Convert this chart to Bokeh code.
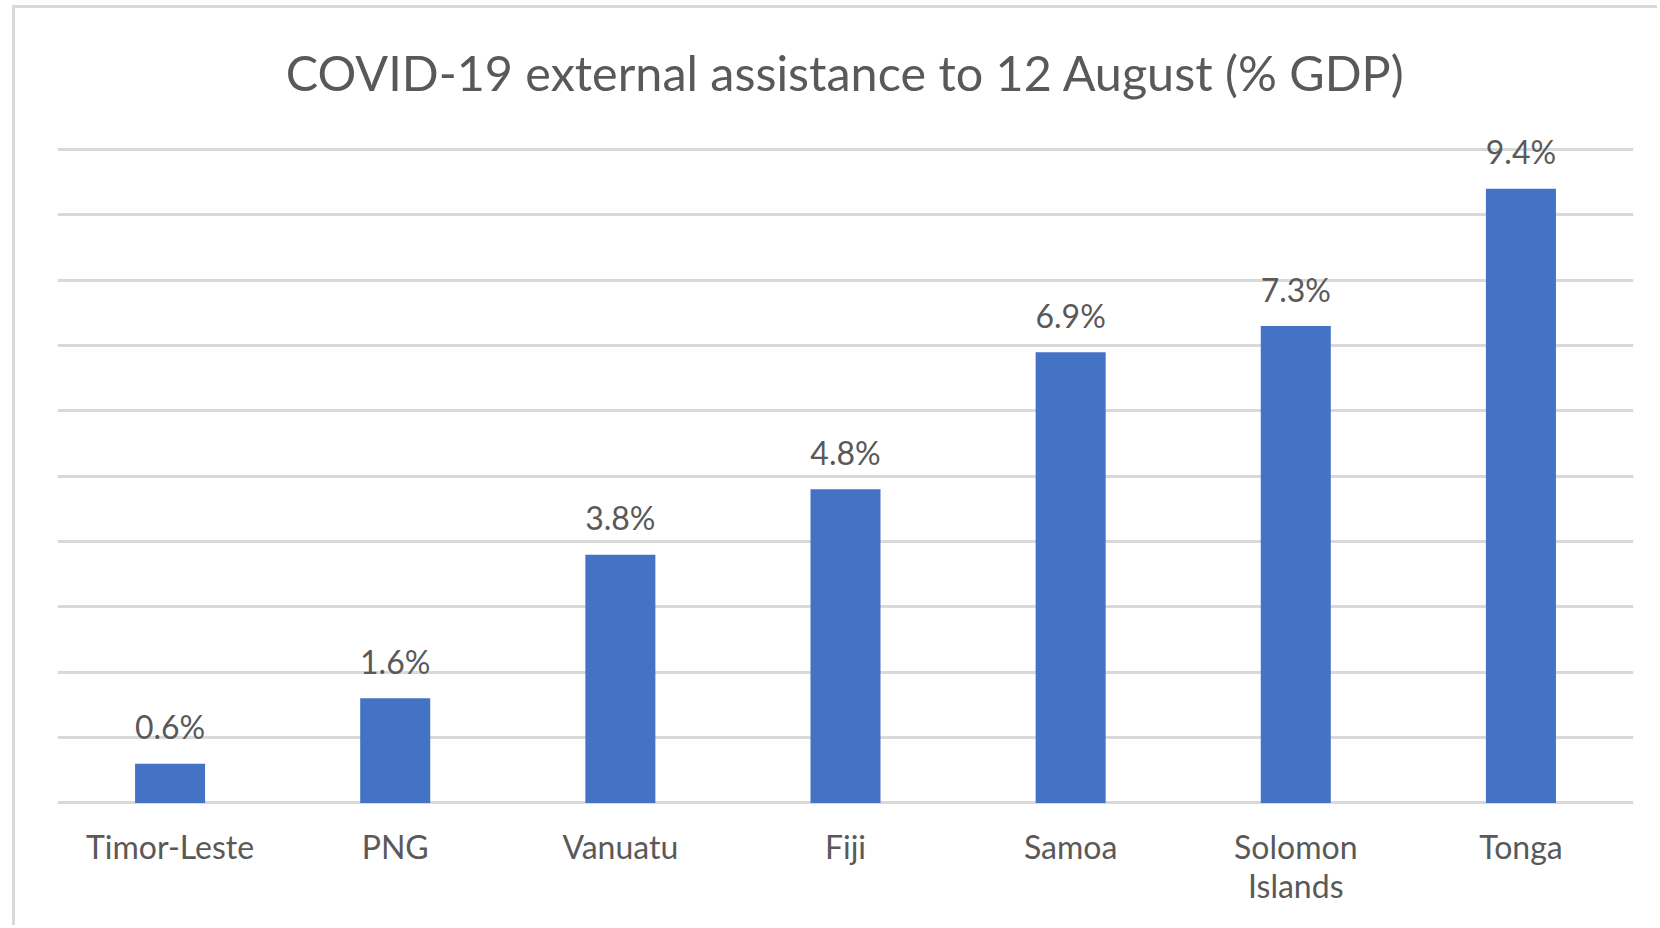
from bokeh.plotting import figure
from bokeh.models import FactorRange, Range1d, FixedTicker, ColumnDataSource
from bokeh.core.properties import value
from bokeh.embed import file_html
from bokeh.resources import INLINE

# ---- data ----
countries = ["Timor-Leste", "PNG", "Vanuatu", "Fiji", "Samoa", "Solomon\nIslands", "Tonga"]
assistance_pct = [0.6, 1.6, 3.8, 4.8, 6.9, 7.3, 9.4]
gridline_ticks = [0, 1, 2, 3, 4, 5, 6, 7, 8, 9, 10]
title_text = "COVID-19 external assistance to 12 August (% GDP)"

TEXT = "#595959"
GRID = "#D9D9D9"
BAR = "#4472C4"
FONT = "Lato"

source = ColumnDataSource(dict(
    country=countries,
    pct=assistance_pct,
    label=[f"{v:.1f}%" for v in assistance_pct],
))

p = figure(
    width=1645, height=920,
    x_range=FactorRange(*countries),
    y_range=Range1d(-0.04, 10.4),
    output_backend="svg", toolbar_location=None,
    min_border_left=42, min_border_right=27,
    min_border_top=115, min_border_bottom=123,
    title=title_text,
    margin=(5, 0, 0, 12),
    styles={"border-left": f"3px solid {GRID}", "border-top": f"3px solid {GRID}"},
)
p.outline_line_color = None
p.background_fill_color = "white"
p.border_fill_color = "white"

p.title.text_font = FONT
p.title.text_font_size = "48.5px"
p.title.text_color = TEXT
p.title.text_font_style = "normal"
p.title.align = "center"
p.title.vertical_align = "top"
p.title.standoff = 42

p.xgrid.grid_line_color = None
p.ygrid.ticker = FixedTicker(ticks=gridline_ticks)
p.ygrid.grid_line_color = GRID
p.ygrid.grid_line_width = 3

p.yaxis.visible = False

ax = p.xaxis[0]
ax.axis_line_color = None
ax.major_tick_line_color = None
ax.minor_tick_line_color = None
ax.major_tick_out = 0
ax.major_tick_in = 0
ax.major_label_standoff = 21
ax.major_label_text_font = FONT
ax.major_label_text_font_size = "32px"
ax.major_label_text_color = TEXT
ax.major_label_text_line_height = 1.0

p.vbar(x="country", top="pct", bottom=0, width=0.311, source=source,
       fill_color=BAR, line_color=None)

p.text(x="country", y="pct", text="label", source=source,
       text_font=value(FONT), text_font_size="32px", text_color=TEXT,
       text_align="center", text_baseline="alphabetic", y_offset=-37)

open("out.html", "w").write(file_html(p, INLINE))
